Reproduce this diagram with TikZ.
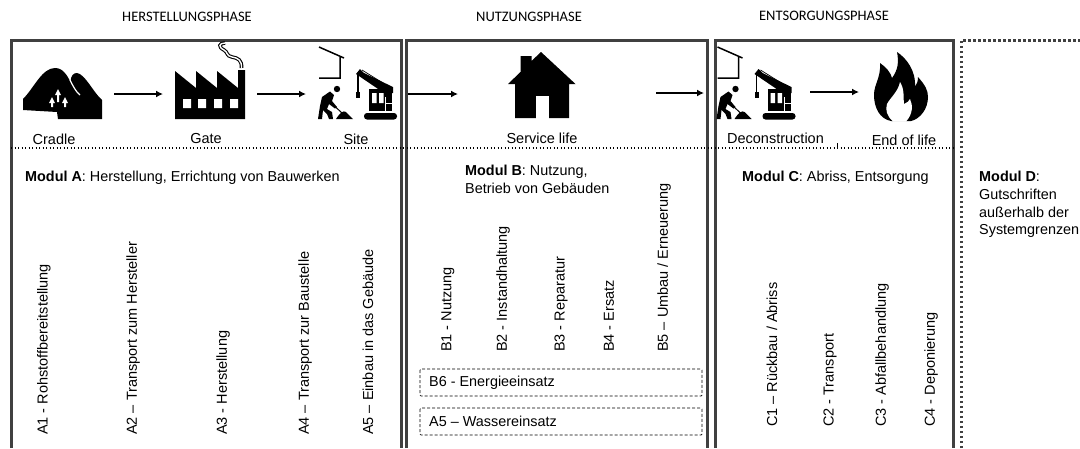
\documentclass[tikz,border=0pt]{standalone}
\usepackage{fontspec}
\setmainfont{Liberation Sans}
\newfontfamily\phasefont{Carlito}
\usetikzlibrary{arrows.meta}
\tikzset{>={Latex[width=7pt,length=7pt]}}
\definecolor{framegray}{HTML}{404040}
\tikzset{
  phasebox/.style={draw=framegray, line width=3pt},
  sepline/.style={line width=1.3pt, dash pattern=on 1.3pt off 2.2pt},
  flowarrow/.style={->, line width=1.4pt},
  phaselabel/.style={font=\phasefont\fontsize{14.5}{16}\selectfont, inner sep=0pt},
  iconlabel/.style={font=\fontsize{14.5}{16}\selectfont, inner sep=0pt},
  modlabel/.style={font=\fontsize{14.4}{17.7}\selectfont, inner sep=0pt, anchor=west, align=left},
  steplabel/.style={font=\fontsize{14.5}{16}\selectfont, inner sep=0pt, anchor=west, rotate=90},
  pics/siteicon/.style={code={
    \draw[line width=1.5pt] (319,47) -- (344,58) (340,57) -- (340,78) -- (319,78);
    \fill (337,89) circle (3.2);
    % worker
    \fill (322,97) -- (330,91.5) -- (334,95) -- (332,101) -- (337,107) -- (335,108.5) -- (329,104) -- (327,109)
      -- (332,112) -- (333,119) -- (329,119) -- (327,114) -- (323,110) -- (322,119) -- (318,119) -- (320,106) -- cycle;
    \draw[line width=1pt] (328,100) -- (342,113);
    \fill (336,119) .. controls (340,113) and (343,110) .. (346,112) -- (353,119) -- cycle;
    % crane
    \fill[rounded corners=3pt] (364,113) rectangle (397,119.5);
    \fill (369,89) rectangle (392,111);
    \fill[white] (372,93) rectangle (376.5,103) (379,93) rectangle (383.5,103);
    \draw[white, line width=.6pt] (385.5,97) -- (385.5,111) (385.5,103) -- (392,103);
    \fill (356,74) -- (360,69) -- (364,73) -- (393,87) -- (393,93) -- (384,93) -- cycle;
    \draw[line width=.7pt] (362,70) -- (391,88);
    \draw[line width=1.5pt] (358,73) -- (358,93);
    \fill (356,92) rectangle (360,98);
  }}
}

\begin{document}
\begin{tikzpicture}[x=1pt, y=-1pt]
  \useasboundingbox (0,0) rectangle (1080,448);

  % headings
  \node[phaselabel] (herst) at (187,17) {HERSTELLUNGSPHASE};
  \node[phaselabel] (nutz) at (529,17) {NUTZUNGSPHASE};
  \node[phaselabel] (ents) at (824,16) {ENTSORGUNGSPHASE};

  % frames
  \draw[phasebox] (11,448) -- (11,40) -- (401,40) -- (401,448);
  \draw[phasebox] (406.5,448) -- (406.5,40) -- (707,40) -- (707,448);
  \draw[phasebox] (715,448) -- (715,40) -- (953,40) -- (953,448);
  \draw[draw=framegray, line width=3pt, dash pattern=on 2.5pt off 2.5pt] (961,448) -- (961,40) -- (1080,40);

  % separator
  \coordinate (sepL) at (11,148);
  \coordinate (sepR) at (953,148);
  \draw[sepline] (sepL) -- (sepR);
  \coordinate (tickT) at (837,143);
  \coordinate (tickB) at (837,148);
  \draw[line width=1pt] (tickT) -- (tickB);

  % cradle
  \fill (23,110) -- (23,99) .. controls (34,88) and (42,68) .. (55,68) .. controls (63,68) and (67,75) .. (71,83)
    .. controls (70,75) and (74,73) .. (77,73) .. controls (85,74) and (93,92) .. (102,100) -- (102,119) -- (58,119) -- (57,112) -- cycle;
  \draw[white, line width=1.2pt] (70,80) .. controls (73,86) and (76,92) .. (80,95);
  \fill[white] (58,89) -- (61,95) -- (59,95) -- (59,102) -- (57,102) -- (57,95) -- (55,95) -- cycle;
  \fill[white] (52,97) -- (55,103) -- (53,103) -- (53,107) -- (51,107) -- (51,103) -- (49,103) -- cycle;
  \fill[white] (65,97) -- (68,103) -- (66,103) -- (66,107) -- (64,107) -- (64,103) -- (62,103) -- cycle;

  % gate
  \fill (175,119) -- (175,71) -- (196,88) -- (196,71) -- (217,88) -- (217,71) -- (238,88) -- (238,70) -- (245,70) -- (245,119) -- cycle;
  \fill[white] (183,99) rectangle (191,108) (198,99) rectangle (206,108) (214,99) rectangle (222,108) (230,99) rectangle (238,108);
  \draw[line width=3.6pt] (241.5,68) .. controls (242,60) and (238,58) .. (232,57) .. controls (226,56) and (228,52) .. (224,50)
    .. controls (218,47) and (219,43) .. (225,43);
  \draw[white, line width=1.4pt] (241.5,68.5) .. controls (242,60) and (238,58) .. (232,57) .. controls (226,56) and (228,52) .. (224,50)
    .. controls (218,47) and (219,43) .. (225,43);

  % site and deconstruction
  \pic (site) {siteicon};
  \begin{scope}
    \clip (716.5,40) rectangle (953,148);
    \pic[xshift=398.5pt] (decon) {siteicon};
  \end{scope}

  % service life
  \fill (541,52) -- (575.5,84) -- (569,84) -- (569,118) -- (515,118) -- (515,84) -- (508,84) -- (520.5,72) -- (520.5,56) -- (531.5,56) -- (531.5,61) -- cycle;
  \fill[white] (535.5,96) rectangle (548.5,118.5);

  % end of life
  \fill (891,121) .. controls (880,119) and (874,108) .. (874,95) .. controls (874,84) and (881,78) .. (880,63)
    .. controls (886,67) and (891,73) .. (892,78) .. controls (898,70) and (899,62) .. (897,52)
    .. controls (906,58) and (916,70) .. (915,87) .. controls (917,84) and (918,81) .. (918,77)
    .. controls (925,85) and (928,90) .. (928,97) .. controls (928,109) and (920,119) .. (911,121) -- cycle;
  \fill[white] (893,121.5) .. controls (887,116) and (885,110) .. (887,104) .. controls (890,98) and (898,92) .. (900,82)
    .. controls (905,90) and (903,98) .. (904,104) .. controls (907,103) and (909,101) .. (910,99)
    .. controls (913,105) and (913,114) .. (906,121.5) -- cycle;

  % arrows
  \coordinate (cradleE) at (114,94);
  \coordinate (gateW) at (163,94);
  \coordinate (gateE) at (257,94);
  \coordinate (siteW) at (306,94);
  \coordinate (lifeIn) at (408,94);
  \coordinate (houseW) at (458,94);
  \coordinate (houseE) at (656,93);
  \coordinate (lifeOut) at (704,93);
  \coordinate (deconE) at (810,92);
  \coordinate (fireW) at (859,92);
  \draw[flowarrow] (cradleE) -- (gateW);
  \draw[flowarrow] (gateE) -- (siteW);
  \draw[flowarrow] (lifeIn) -- (houseW);
  \draw[flowarrow] (houseE) -- (lifeOut);
  \draw[flowarrow] (deconE) -- (fireW);

  % icon labels
  \node[iconlabel] (cradle) at (54,139) {Cradle};
  \node[iconlabel] (gate) at (206,139) {Gate};
  \node[iconlabel] (sitelbl) at (356,139) {Site};
  \node[iconlabel] (life) at (542,138) {Service life};
  \node[iconlabel] (deconlbl) at (775.5,138) {Deconstruction};
  \node[iconlabel] (eol) at (904,140) {End of life};

  % modules
  \node[modlabel] (modA) at (25,178) {\textbf{Modul A}: Herstellung, Errichtung von Bauwerken};
  \node[modlabel] (modB) at (465,179.5) {\textbf{Modul B}: Nutzung,\\Betrieb von Gebäuden};
  \node[modlabel] (modC) at (742,178) {\textbf{Modul C}: Abriss, Entsorgung};
  \node[modlabel, anchor=north west] (modD) at (979,171) {\textbf{Modul D}:\\Gutschriften\\außerhalb der\\Systemgrenzen};

  % steps
  \node[steplabel] (a1) at (44,435) {A1 - Rohstoffbereitstellung};
  \node[steplabel] (a2) at (133,435) {A2 – Transport zum Hersteller};
  \node[steplabel] (a3) at (223,435) {A3 - Herstellung};
  \node[steplabel] (a4) at (305,435) {A4 – Transport zur Baustelle};
  \node[steplabel] (a5) at (368,435) {A5 – Einbau in das Gebäude};

  \node[steplabel] (b1) at (448,352) {B1 - Nutzung};
  \node[steplabel] (b2) at (503,352) {B2 - Instandhaltung};
  \node[steplabel] (b3) at (561,352) {B3 - Reparatur};
  \node[steplabel] (b4) at (609,352) {B4 - Ersatz};
  \node[steplabel] (b5) at (664,352) {B5 – Umbau / Erneuerung};

  \node[steplabel] (c1) at (772,427) {C1 – Rückbau / Abriss};
  \node[steplabel] (c2) at (830,427) {C2 - Transport};
  \node[steplabel] (c3) at (882,427) {C3 - Abfallbehandlung};
  \node[steplabel] (c4) at (931,427) {C4 - Deponierung};

  % dashed boxes
  \draw[dashed, line width=.7pt, dash pattern=on 3pt off 2pt, rounded corners=1pt] (420,369) rectangle (702,396);
  \node[modlabel] (b6) at (429,383) {B6 - Energieeinsatz};
  \draw[dashed, line width=.7pt, dash pattern=on 3pt off 2pt, rounded corners=1pt] (420,408) rectangle (702,435);
  \node[modlabel] (a5w) at (429,421.5) {A5 – Wassereinsatz};

\end{tikzpicture}
\end{document}
